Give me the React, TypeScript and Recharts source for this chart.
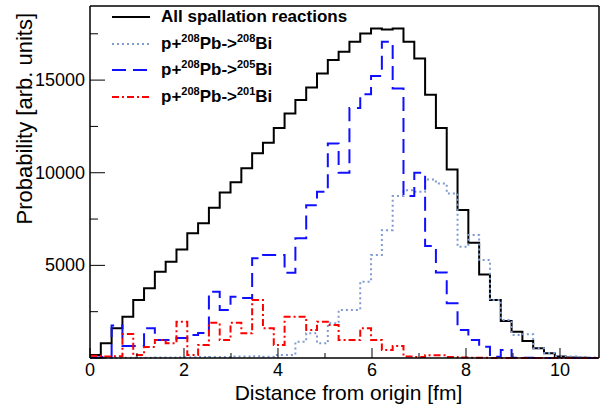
import React from "react";
import { ComposedChart, Line, XAxis, YAxis, ReferenceLine, Legend } from "recharts";

// histogram binning, bins start at 0
const BIN_WIDTH = 0.23;
const X_MAX = 10.83;
const Y_MAX = 19000;

// bin contents (47 bins)
const allSpallation = [
  160, 790, 1600, 2230, 3130, 3760, 4660, 5200, 5850, 6730,
  7270, 8110, 8940, 9480, 10240, 11050, 11620, 12410, 13200, 13920,
  14600, 15360, 16080, 16530, 17070, 17520, 17790, 17730, 17790, 17070,
  16170, 14210, 12410, 10180, 7990, 6220, 4510, 3130, 2000, 1420,
  920, 520, 250, 80, 30, 10, 0,
];
const bi208 = [
  0, 0, 10, 10, 20, 20, 30, 30, 40, 40,
  50, 60, 60, 80, 80, 100, 70, 160, 160, 880,
  1330, 790, 1870, 2590, 2590, 4120, 5560, 6900, 8740, 9060,
  8970, 9640, 9420, 8880, 6000, 6640, 5290, 3130, 2050, 1240,
  1280, 520, 270, 100, 80, 50, 30,
];
const bi205 = [
  30, 60, 1750, 650, 650, 1600, 970, 970, 1080, 1240,
  1350, 3580, 2590, 3310, 3240, 5380, 5560, 5560, 4600, 6460,
  8250, 8970, 11580, 10000, 13500, 14230, 15220, 17070, 14550, 8740,
  10000, 6040, 4620, 2950, 1510, 970, 610, 70, 430, 20,
  10, 0, 0, 0, 0, 0, 0,
];
const bi201 = [
  120, 80, 100, 1290, 160, 600, 970, 790, 1960, 160,
  700, 1900, 970, 1900, 1330, 3130, 1600, 700, 2230, 2230,
  1510, 1960, 1780, 970, 970, 1600, 970, 430, 650, 80,
  60, 150, 150, 60, 30, 20, 10, 0, 0, 0,
  0, 0, 0, 0, 0, 0, 0,
];

const xTicks = [0, 1, 2, 3, 4, 5, 6, 7, 8, 9, 10];
const xLabels = [0, 2, 4, 6, 8, 10];
const yTicks = [0, 2500, 5000, 7500, 10000, 12500, 15000, 17500];
const yLabels = [5000, 10000, 15000];

const FONT = "'Liberation Sans', Arial, Helvetica, sans-serif";

const COLORS = {
  all: "#000000",
  b208: "#7f9bd2",
  b205: "#1010ff",
  b201: "#ff0000",
};
const DASH = {
  all: undefined,
  b208: "2 3",
  b205: "14 7",
  b201: "7 3 2 3",
};

// one point per bin left edge, plus the right edge of the last bin
const rows = allSpallation.map((_, i) => ({
  x: i * BIN_WIDTH,
  all: allSpallation[i],
  b208: bi208[i],
  b205: bi205[i],
  b201: bi201[i],
}));
const last = allSpallation.length - 1;
rows.push({
  x: allSpallation.length * BIN_WIDTH,
  all: allSpallation[last],
  b208: bi208[last],
  b205: bi205[last],
  b201: bi201[last],
});

function XTick(props: any) {
  const { x, y, payload } = props;
  const major = xLabels.includes(payload.value);
  return (
    <g>
      <line x1={x} y1={y} x2={x} y2={y - (major ? 10 : 5)} stroke="#000" strokeWidth={1} />
      {major && (
        <text x={x} y={y + 18} textAnchor="middle" fontSize={18} fill="#000" fontFamily={FONT}>
          {payload.value}
        </text>
      )}
    </g>
  );
}

function YTick(props: any) {
  const { x, y, payload } = props;
  const major = payload.value % 5000 === 0;
  return (
    <g>
      <line x1={x} y1={y} x2={x + (major ? 15 : 8)} y2={y} stroke="#000" strokeWidth={1} />
      {yLabels.includes(payload.value) && (
        <text x={x - 5} y={y + 6} textAnchor="end" fontSize={18} fill="#000" fontFamily={FONT}>
          {payload.value}
        </text>
      )}
    </g>
  );
}

const sup = (s: string) => (
  <span style={{ fontSize: 11, position: "relative", top: -7 }}>{s}</span>
);

const legendRows = [
  { key: "all", label: <>All spallation reactions</> },
  { key: "b208", label: <>p+{sup("208")}Pb-&gt;{sup("208")}Bi</> },
  { key: "b205", label: <>p+{sup("208")}Pb-&gt;{sup("205")}Bi</> },
  { key: "b201", label: <>p+{sup("208")}Pb-&gt;{sup("201")}Bi</> },
];

function LegendBox() {
  return (
    <div style={{ fontFamily: FONT, fontWeight: "bold", fontSize: 17, color: "#000" }}>
      {legendRows.map((r) => (
        <div key={r.key} style={{ height: 26.5, display: "flex", alignItems: "center", whiteSpace: "nowrap" }}>
          <svg width={38} height={6} style={{ marginRight: 11 }}>
            <line
              x1={0}
              y1={3}
              x2={38}
              y2={3}
              stroke={(COLORS as any)[r.key]}
              strokeWidth={2}
              strokeDasharray={(DASH as any)[r.key]}
            />
          </svg>
          <span>{r.label}</span>
        </div>
      ))}
    </div>
  );
}

export default function App() {
  return (
    <div style={{ position: "absolute", left: 0, top: 0, background: "#fff" }}>
      <ComposedChart width={600} height={405} data={rows} margin={{ top: 6, right: 1, left: 0, bottom: 0 }}>
        <XAxis
          dataKey="x"
          type="number"
          domain={[0, X_MAX]}
          ticks={xTicks}
          interval={0}
          tickSize={0}
          tickMargin={0}
          tickLine={false}
          tick={<XTick />}
          height={47}
          axisLine={{ stroke: "#000", strokeWidth: 1.5 }}
          label={{
            content: (p: any) => (
              <text
                x={p.viewBox.x + p.viewBox.width / 2 + 4}
                y={p.viewBox.y + 42}
                textAnchor="middle"
                fontSize={21}
                fontFamily={FONT}
                fill="#000"
              >
                Distance from origin [fm]
              </text>
            ),
          }}
        />
        <YAxis
          type="number"
          domain={[0, Y_MAX]}
          ticks={yTicks}
          interval={0}
          tickSize={0}
          tickMargin={0}
          tickLine={false}
          tick={<YTick />}
          width={90}
          axisLine={{ stroke: "#000", strokeWidth: 1.5 }}
          label={{
            content: (p: any) => (
              <text
                transform={`translate(32, ${p.viewBox.y + 7}) rotate(-90)`}
                textAnchor="end"
                fontSize={22}
                fontFamily={FONT}
                fill="#000"
              >
                Probability [arb. units]
              </text>
            ),
          }}
        />
        <ReferenceLine y={Y_MAX} stroke="#000" strokeWidth={1.5} />
        <ReferenceLine x={X_MAX} stroke="#000" strokeWidth={1.5} />
        <Legend
          layout="vertical"
          align="center"
          verticalAlign="middle"
          wrapperStyle={{ top: 4, left: 112, width: 280 }}
          content={() => <LegendBox />}
        />
        <Line type="stepAfter" dataKey="all" stroke={COLORS.all} strokeWidth={2} dot={false} isAnimationActive={false} />
        <Line type="stepAfter" dataKey="b208" stroke={COLORS.b208} strokeWidth={2} strokeDasharray={DASH.b208} dot={false} isAnimationActive={false} />
        <Line type="stepAfter" dataKey="b205" stroke={COLORS.b205} strokeWidth={2} strokeDasharray={DASH.b205} dot={false} isAnimationActive={false} />
        <Line type="stepAfter" dataKey="b201" stroke={COLORS.b201} strokeWidth={2} strokeDasharray={DASH.b201} dot={false} isAnimationActive={false} />
      </ComposedChart>
    </div>
  );
}
